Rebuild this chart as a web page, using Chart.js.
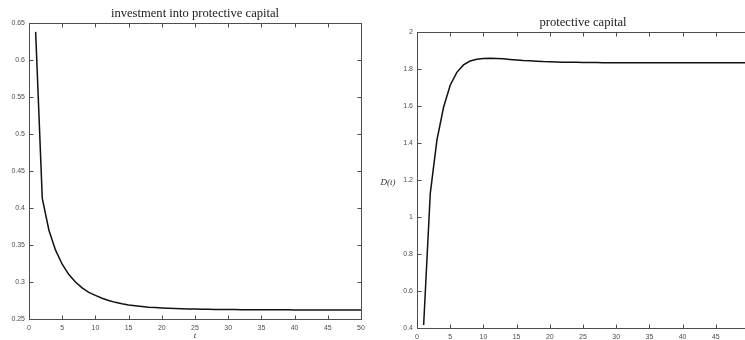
<!DOCTYPE html>
<html>
<head>
<meta charset="utf-8">
<script src="https://cdn.jsdelivr.net/npm/chart.js@4.4.0/dist/chart.umd.min.js"></script>
<style>
  html, body { margin: 0; padding: 0; overflow: hidden; background: #fff; }
  #wrap { position: relative; width: 745px; height: 340px; overflow: hidden; }
  #investChart { position: absolute; left: 0; top: 0; }
  #capitalChart { position: absolute; left: 372px; top: 0; }
</style>
</head>
<body>
<div id="wrap">
  <canvas id="investChart" width="372" height="340"></canvas>
  <canvas id="capitalChart" width="385" height="340"></canvas>
</div>
<script>
// time periods
const periods = [1, 2, 3, 4, 5, 6, 7, 8, 9, 10, 11, 12, 13, 14, 15, 16, 17, 18, 19, 20,
    21, 22, 23, 24, 25, 26, 27, 28, 29, 30, 31, 32, 33, 34, 35, 36, 37, 38, 39, 40,
    41, 42, 43, 44, 45, 46, 47, 48, 49, 50];

// investment into protective capital
const investment = [0.638, 0.413, 0.370, 0.343, 0.324, 0.310, 0.300, 0.292, 0.286, 0.282,
    0.278, 0.275, 0.2725, 0.2705, 0.269, 0.2678, 0.2668, 0.266, 0.2654, 0.2649,
    0.2645, 0.2641, 0.2638, 0.2636, 0.2634, 0.2632, 0.2631, 0.263, 0.2629, 0.2628,
    0.2627, 0.2626, 0.2626, 0.2625, 0.2625, 0.2624, 0.2624, 0.2624, 0.2624, 0.2623,
    0.2623, 0.2623, 0.2623, 0.2623, 0.2623, 0.2623, 0.2623, 0.2623, 0.2623, 0.2623];

// protective capital D(t)
const capital = [0.416, 1.128, 1.415, 1.593, 1.712, 1.782, 1.822, 1.843, 1.853, 1.857,
    1.858, 1.857, 1.855, 1.852, 1.849, 1.846, 1.844, 1.842, 1.840, 1.839,
    1.838, 1.837, 1.836, 1.836, 1.835, 1.835, 1.835, 1.834, 1.834, 1.834,
    1.834, 1.834, 1.834, 1.834, 1.834, 1.834, 1.834, 1.834, 1.834, 1.834,
    1.834, 1.834, 1.834, 1.834, 1.834, 1.834, 1.834, 1.834, 1.834, 1.834];

const xTicks = { min: 0, max: 50, step: 5 };
const investTicks = { min: 0.25, max: 0.65, step: 0.05 };
const capitalTicks = { min: 0.4, max: 2, step: 0.2 };

const axisColor = '#4d4d4d';
const tickFont = { family: 'Liberation Sans', size: 7 };

// MATLAB style box with inward ticks on all sides
const boxPlugin = {
    id: 'box',
    afterDraw(chart) {
        const ctx = chart.ctx;
        const a = chart.chartArea;
        const xs = chart.scales.x;
        const ys = chart.scales.y;
        const L = Math.round(a.left) + 0.5, R = Math.round(a.right) + 0.5;
        const T = Math.round(a.top) + 0.5, B = Math.round(a.bottom) + 0.5;
        ctx.save();
        ctx.strokeStyle = axisColor;
        ctx.lineWidth = 1;
        ctx.strokeRect(L, T, R - L, B - T);
        ctx.beginPath();
        xs.ticks.forEach(t => {
            const px = Math.round(xs.getPixelForValue(t.value)) + 0.5;
            ctx.moveTo(px, B); ctx.lineTo(px, B - 4);
            ctx.moveTo(px, T); ctx.lineTo(px, T + 4);
        });
        ys.ticks.forEach(t => {
            const py = Math.round(ys.getPixelForValue(t.value)) + 0.5;
            ctx.moveTo(L, py); ctx.lineTo(L + 4, py);
            ctx.moveTo(R, py); ctx.lineTo(R - 4, py);
        });
        ctx.stroke();
        ctx.restore();
    }
};

// title centred over the axes, and upright axis labels like the original
const labelPlugin = {
    id: 'axisLabels',
    afterDraw(chart, args, opts) {
        const ctx = chart.ctx;
        const a = chart.chartArea;
        ctx.save();
        ctx.textAlign = 'center';
        ctx.textBaseline = 'middle';
        ctx.fillStyle = '#222';
        ctx.font = "12.6px 'Liberation Serif'";
        ctx.fillText(opts.title, (a.left + a.right) / 2, a.top - opts.titleGap);
        ctx.fillStyle = '#333';
        ctx.font = "italic 9px 'Liberation Serif'";
        opts.items.forEach(it => ctx.fillText(it.text, it.x, it.y));
        ctx.restore();
    }
};

function fmt(v) {
    return String(+Number(v).toFixed(4));
}

function makeChart(id, title, values, yt, opts) {
    const ctx = document.getElementById(id).getContext('2d');
    return new Chart(ctx, {
        type: 'line',
        data: {
            datasets: [{
                data: periods.map((t, i) => ({ x: t, y: values[i] })),
                borderColor: '#111',
                borderWidth: 1.5,
                pointRadius: 0,
                tension: 0,
                fill: false
            }]
        },
        options: {
            responsive: false,
            animation: false,
            layout: { padding: { left: 0, right: opts.padRight, top: opts.padTop, bottom: 0 } },
            plugins: {
                legend: { display: false },
                tooltip: { enabled: false },
                title: { display: false },
                axisLabels: { title: title, titleGap: 9, items: opts.labels }
            },
            scales: {
                x: {
                    type: 'linear',
                    min: xTicks.min,
                    max: xTicks.max,
                    grid: { display: false, drawTicks: false },
                    border: { display: false },
                    ticks: { stepSize: xTicks.step, color: axisColor, font: tickFont, padding: 5, maxRotation: 0 },
                    afterFit: s => {
                        s.height = opts.xHeight;
                        s.paddingLeft = 0;
                        s.paddingRight = 0;
                    }
                },
                y: {
                    min: yt.min,
                    max: yt.max,
                    grid: { display: false, drawTicks: false },
                    border: { display: false },
                    ticks: { stepSize: yt.step, color: axisColor, font: tickFont, padding: 4, callback: fmt },
                    afterFit: s => {
                        s.width = opts.yWidth;
                        s.paddingTop = 0;
                        s.paddingBottom = 0;
                    }
                }
            }
        },
        plugins: [boxPlugin, labelPlugin]
    });
}

makeChart('investChart', 'investment into protective capital', investment, investTicks, {
    padRight: 11, padTop: 23, xHeight: 21, yWidth: 29,
    labels: [{ text: 't', x: 195, y: 336 }]
});

makeChart('capitalChart', 'protective capital', capital, capitalTicks, {
    padRight: 8, padTop: 32, xHeight: 12, yWidth: 45,
    labels: [{ text: 'D(t)', x: 16, y: 183 }]
});
</script>
</body>
</html>
